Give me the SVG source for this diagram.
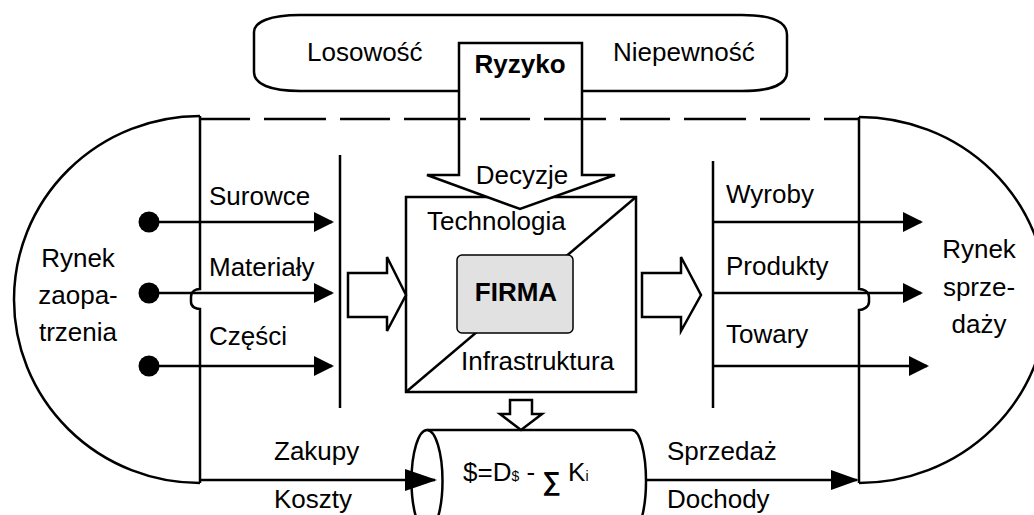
<svg xmlns="http://www.w3.org/2000/svg" width="1034" height="515" viewBox="0 0 1034 515">
<defs>
<style>
.s{fill:none;stroke:#000;stroke-width:2.5}
.w{fill:#fff;stroke:#000;stroke-width:2.5}
.t{font-family:"Liberation Sans",Arial,sans-serif;font-size:26px;fill:#000}
.b{font-weight:bold}
.m{text-anchor:middle}
</style>
<marker id="ah" viewBox="0 0 20 20" markerWidth="20" markerHeight="20" refX="18" refY="10" orient="auto" markerUnits="userSpaceOnUse"><path d="M0,0 L20,10 L0,20 Z" fill="#000"/></marker>
<marker id="ah2" viewBox="0 0 32 22" markerWidth="32" markerHeight="22" refX="30" refY="11" orient="auto" markerUnits="userSpaceOnUse"><path d="M0,0 L32,11 L0,22 Z" fill="#000"/></marker>
<marker id="ah3" viewBox="0 0 28 20" markerWidth="28" markerHeight="20" refX="26" refY="10" orient="auto" markerUnits="userSpaceOnUse"><path d="M0,0 L28,10 L0,20 Z" fill="#000"/></marker>
</defs>
<rect width="1034" height="515" fill="#fff"/>

<g id="cloud">
<path class="w" d="M300,15 L742,15 C772,15 787,22 787,35 L787,72 C787,84 772,91 742,91 L300,91 C270,91 254,84 254,72 L254,32 C254,22 270,15 300,15 Z"/>
<text class="t" x="307" y="61">Losowość</text>
<text class="t" x="613" y="61">Niepewność</text>
</g>

<g id="rynek-zaopatrzenia">
<path class="s" d="M200,116 A186,183.5 0 0 0 200,483"/>
<path class="s" d="M200,116 L200,289 C196,289 191,291 191,297 L191,302 C191,307 196,309 200,309 L200,483"/>
<text class="t m" x="78" y="267">Rynek</text>
<text class="t m" x="78" y="304">zaopa-</text>
<text class="t m" x="78" y="341">trzenia</text>
</g>

<g id="rynek-sprzedazy">
<path class="s" d="M859,117 A188,183 0 0 1 859,483"/>
<path class="s" d="M859,117 L859,289 C863,289 869,291 869,297 L869,302 C869,307 863,310 859,310 L859,483"/>
<text class="t m" x="979" y="258">Rynek</text>
<text class="t m" x="979" y="296">sprze-</text>
<text class="t m" x="979" y="333">daży</text>
</g>

<g id="firma">
<rect class="w" x="406" y="197" width="230" height="195"/>
<line class="s" x1="406" y1="392" x2="636" y2="197"/>
<rect x="457" y="255" width="116" height="78" rx="5" fill="#e1e1e1" stroke="#000" stroke-width="1.5"/>
<text class="t b m" x="516" y="301">FIRMA</text>
<text class="t" x="427" y="230">Technologia</text>
<text class="t" x="461" y="370">Infrastruktura</text>
</g>

<g id="ryzyko">
<path class="w" d="M459,43 L582,43 L582,175 L615,175 L520,209 L427,175 L459,175 Z"/>
<text class="t b m" x="520" y="73">Ryzyko</text>
<text class="t m" x="522" y="184">Decyzje</text>
</g>

<g id="wynik">
<path class="w" d="M427,430 L632,430 A14,51 0 0 1 632,532 L427,532"/>
<ellipse class="w" cx="427" cy="481" rx="15.5" ry="51"/>
<text class="t" x="463" y="481">$=D<tspan font-size="14">$</tspan> - <tspan class="b" font-size="26" dy="9">∑</tspan><tspan dy="-9"> K</tspan><tspan font-size="14">i</tspan></text>
</g>

<g id="connectors">
<line x1="200" y1="119" x2="859" y2="119" stroke="#000" stroke-width="2.5" stroke-dasharray="50 14 62 14"/>
<line class="s" x1="340" y1="155" x2="340" y2="408"/>
<line class="s" x1="713" y1="161" x2="713" y2="408"/>
<circle cx="149" cy="222" r="10.5"/>
<circle cx="149" cy="293" r="10.5"/>
<circle cx="149" cy="366" r="10.5"/>
<line class="s" x1="149" y1="222" x2="332" y2="222" marker-end="url(#ah)"/>
<line class="s" x1="149" y1="293" x2="332" y2="293" marker-end="url(#ah)"/>
<line class="s" x1="149" y1="366" x2="332" y2="366" marker-end="url(#ah)"/>
<line class="s" x1="713" y1="222" x2="921" y2="222" marker-end="url(#ah)"/>
<line class="s" x1="713" y1="293" x2="921" y2="293" marker-end="url(#ah)"/>
<line class="s" x1="713" y1="366" x2="927" y2="366" marker-end="url(#ah)"/>
<path class="w" d="M348,273 L387,273 L387,257 L406,295 L387,331 L387,317 L348,317 Z"/>
<path class="w" d="M642,273 L681,273 L681,257 L701,295 L681,331 L681,317 L642,317 Z"/>
<path class="w" d="M510,400 L532,400 L532,414 L542,414 L521,430 L500,414 L510,414 Z"/>
<line class="s" x1="200" y1="480" x2="435" y2="480" marker-end="url(#ah2)"/>
<line class="s" x1="646" y1="480" x2="857" y2="480" marker-end="url(#ah3)"/>
<text class="t" x="209" y="205">Surowce</text>
<text class="t" x="209" y="276">Materiały</text>
<text class="t" x="209" y="345">Części</text>
<text class="t" x="726" y="203">Wyroby</text>
<text class="t" x="726" y="275">Produkty</text>
<text class="t" x="726" y="343">Towary</text>
<text class="t" x="274" y="460">Zakupy</text>
<text class="t" x="274" y="508">Koszty</text>
<text class="t" x="667" y="460">Sprzedaż</text>
<text class="t" x="667" y="508">Dochody</text>
</g>
</svg>
